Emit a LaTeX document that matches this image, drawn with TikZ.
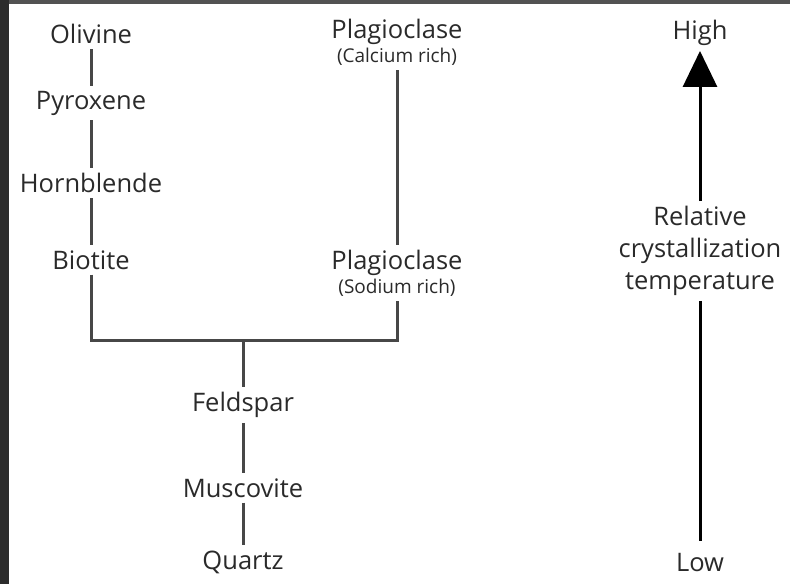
\documentclass[tikz,border=0pt]{standalone}
\usepackage{fontspec}
\setmainfont{Open Sans}
\usetikzlibrary{arrows.meta,positioning}
\definecolor{Ink}{HTML}{2A2A2A}
\definecolor{Wire}{HTML}{474747}
\definecolor{Frame}{HTML}{2C2C2C}
\definecolor{FrameTop}{HTML}{525252}
\tikzset{
  mineral/.style={text=Ink,font=\fontsize{25.5}{32}\selectfont,inner xsep=4pt,inner ysep=5pt,align=center},
  link/.style={draw=Wire,line width=3pt},
  tempArrow/.style={-{Triangle[length=36pt,width=34pt]},line width=3pt,draw=black}
}
\newcommand{\richnote}[1]{\\[-8pt]{\fontsize{19}{21}\selectfont #1}}

\begin{document}
\begin{tikzpicture}[x=1pt,y=-1pt]
\useasboundingbox (0,0) rectangle (790,584);
\fill[white] (0,0) rectangle (790,584);
\fill[Frame] (0,0) rectangle (9,584);
\fill[FrameTop] (9,0) rectangle (790,4);
% left column
\node[mineral] (olivine) at (91,34) {Olivine};
\node[mineral] (pyroxene) at (91,103) {Pyroxene};
\node[mineral] (hornblende) at (91,183) {Hornblende};
\node[mineral] (biotite) at (91,260) {Biotite};
% plagioclase branch
\node[mineral] (plagCa) at (397,42) {Plagioclase\richnote{(Calcium rich)}};
\node[mineral] (plagNa) at (397,273) {Plagioclase\richnote{(Sodium rich)}};
% lower column
\coordinate (join) at (243,340);
\node[mineral] (feldspar) at (243,405) {Feldspar};
\node[mineral] (muscovite) at (243,488) {Muscovite};
\node[mineral] (quartz) at (243,562) {Quartz};
% temperature scale
\node[mineral] (high) at (700,33) {High};
\node[mineral] (relative) at (700,251) {Relative\\crystallization\\temperature};
\node[mineral] (low) at (700,563) {Low};

\draw[link] (olivine)--(pyroxene);\draw[link] (pyroxene)--(hornblende);\draw[link] (hornblende)--(biotite);
\draw[link] (plagCa)--(plagNa);
\draw[link] (biotite) |- (join) -| (plagNa);
\draw[link] (join)--(feldspar);\draw[link] (feldspar)--(muscovite);\draw[link] (muscovite)--(quartz);
\draw[tempArrow] (relative)--(high);
\draw[line width=3pt,shorten >=8pt] (relative)--(low);
\end{tikzpicture}
\end{document}
